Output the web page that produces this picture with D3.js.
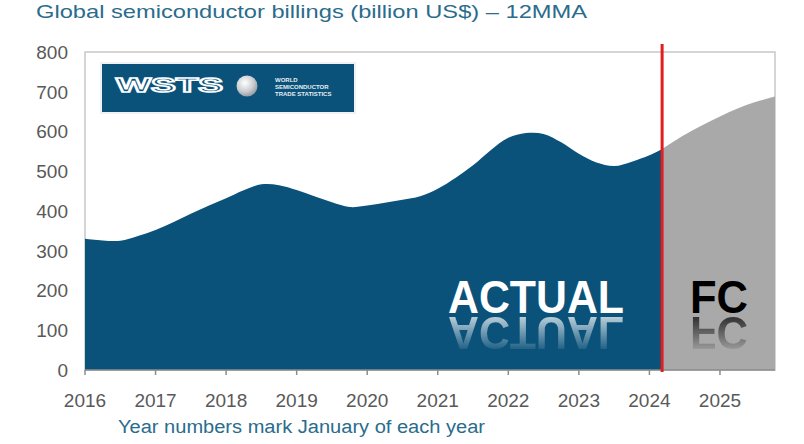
<!DOCTYPE html>
<html><head><meta charset="utf-8">
<script src="https://cdn.jsdelivr.net/npm/d3@7"></script>
<style>html,body{margin:0;padding:0;background:#fff;}svg{display:block;font-family:"Liberation Sans",Arial,sans-serif;}</style>
</head><body><svg id="c" width="804" height="444" xmlns:xlink="http://www.w3.org/1999/xlink"></svg>
<script>
const actualYears = [2016.0,2016.25,2016.5,2016.75,2017.0,2017.25,2017.5,2017.75,2018.0,2018.25,2018.5,2018.75,2019.0,2019.25,2019.5,2019.75,2020.0,2020.25,2020.5,2020.75,2021.0,2021.25,2021.5,2021.75,2022.0,2022.25,2022.5,2022.75,2023.0,2023.25,2023.5,2023.75,2024.0,2024.18];
const actualValues = [330,326,325,337,352,372,393,413,432,452,467,465,453,437,422,410,414,421,428,437,456,483,515,553,584,596,594,573,544,522,513,524,540,556];
const forecastYears = [2024.18,2024.5,2024.75,2025.0,2025.25,2025.5,2025.78];
const forecastValues = [556,592,616,638,658,674,688];
const yearTicks = [2016,2017,2018,2019,2020,2021,2022,2023,2024,2025];
const valueTicks = [0,100,200,300,400,500,600,700,800];
const splitYear = 2024.18;
const titleText = "Global semiconductor billings (billion US$) \u2013 12MMA";
const noteText = "Year numbers mark January of each year";

const svg = d3.select("#c");
const x = d3.scaleLinear().domain([2016, 2025.78]).range([85, 775]);
const y = d3.scaleLinear().domain([0, 800]).range([370, 52]);

const defs = svg.append("defs");
const rg = defs.append("radialGradient").attr("id","globe").attr("cx","40%").attr("cy","35%").attr("r","70%");
rg.append("stop").attr("offset","0%").attr("stop-color","#ffffff");
rg.append("stop").attr("offset","60%").attr("stop-color","#c9ccd0");
rg.append("stop").attr("offset","100%").attr("stop-color","#8d949b");
const lg = defs.append("linearGradient").attr("id","fade").attr("gradientUnits","userSpaceOnUse")
  .attr("x1",0).attr("y1",315).attr("x2",0).attr("y2",354);
lg.append("stop").attr("offset","0%").attr("stop-color","#fff").attr("stop-opacity",0.75);
lg.append("stop").attr("offset","100%").attr("stop-color","#fff").attr("stop-opacity",0);
defs.append("mask").attr("id","refl").attr("maskUnits","userSpaceOnUse")
  .attr("x",0).attr("y",0).attr("width",804).attr("height",444)
  .append("rect").attr("x",0).attr("y",315).attr("width",804).attr("height",45).attr("fill","url(#fade)");

// title
svg.append("text").attr("x",36).attr("y",18).attr("font-size",19).attr("fill","#2a6c8c")
  .attr("textLength",551).attr("lengthAdjust","spacingAndGlyphs").text(titleText);

// frame
svg.append("rect").attr("x",x(2016)).attr("y",y(800)).attr("width",x.range()[1]-x(2016)).attr("height",y(0)-y(800))
  .attr("fill","none").attr("stroke","#c8c8c8").attr("stroke-width",1.5);

const area = d3.area().x(d=>x(d[0])).y0(y(0)).y1(d=>y(d[1])).curve(d3.curveCatmullRom.alpha(0.5));
svg.append("path").datum(forecastYears.map((v,i)=>[v,forecastValues[i]])).attr("d",area).attr("fill","#a9a9a9");
svg.append("path").datum(actualYears.map((v,i)=>[v,actualValues[i]])).attr("d",area).attr("fill","#0b527a");

// y labels
svg.append("g").selectAll("text").data(valueTicks).join("text")
  .attr("x",68).attr("y",d=>y(d)).attr("dy","0.36em").attr("text-anchor","end")
  .attr("font-size",19).attr("fill","#595959").text(d=>d);

// x axis
svg.append("line").attr("x1",x(2016)).attr("x2",x.range()[1]).attr("y1",y(0)).attr("y2",y(0))
  .attr("stroke","#8c8c8c").attr("stroke-width",1.5);
svg.append("g").selectAll("line").data(yearTicks).join("line")
  .attr("x1",d=>x(d)).attr("x2",d=>x(d)).attr("y1",y(0)).attr("y2",y(0)+5)
  .attr("stroke","#8c8c8c").attr("stroke-width",1.5);
svg.append("g").selectAll("text").data(yearTicks).join("text")
  .attr("x",d=>x(d)).attr("y",407).attr("text-anchor","middle")
  .attr("font-size",19).attr("fill","#595959").text(d=>d);

svg.append("text").attr("x",118).attr("y",433).attr("font-size",18).attr("fill","#2a6c8c")
  .attr("textLength",367).attr("lengthAdjust","spacingAndGlyphs").text(noteText);

// ACTUAL / FC labels with reflections (reflection via <use>)
function label(id, txt, x0, len, color){
  svg.append("text").attr("id",id).attr("x",x0).attr("y",313).attr("font-size",47).attr("font-weight","bold")
    .attr("fill",color).attr("textLength",len).attr("lengthAdjust","spacingAndGlyphs").text(txt);
  svg.append("g").attr("mask","url(#refl)")
    .append("use").attr("href","#"+id).attr("transform","translate(0,630) scale(1,-1)");
}
label("lblActual","ACTUAL", 448, 176, "#ffffff");
label("lblFc","FC", 690, 58, "#000000");

// red split line
svg.append("line").attr("x1",x(splitYear)).attr("x2",x(splitYear)).attr("y1",44).attr("y2",y(0)+2)
  .attr("stroke","#e0201f").attr("stroke-width",3);

// logo
const lgG = svg.append("g");
lgG.append("rect").attr("x",100).attr("y",62).attr("width",256).attr("height",52).attr("fill","#eef2f5");
lgG.append("rect").attr("x",102).attr("y",64).attr("width",252).attr("height",48).attr("fill","#0b527a");
lgG.append("text").attr("x",116).attr("y",92).attr("font-size",20).attr("font-weight","bold")
  .attr("fill","none").attr("stroke","#ffffff").attr("stroke-width",1.6)
  .attr("textLength",107).attr("lengthAdjust","spacingAndGlyphs").text("WSTS");
lgG.append("circle").attr("cx",247).attr("cy",86).attr("r",10.5).attr("fill","url(#globe)");
[["WORLD",82],["SEMICONDUCTOR",89],["TRADE STATISTICS",96]].forEach(([t,yy])=>{
  lgG.append("text").attr("x",275).attr("y",yy).attr("font-size",6).attr("font-weight","bold")
    .attr("fill","#e8eef2").text(t);
});
</script></body></html>
